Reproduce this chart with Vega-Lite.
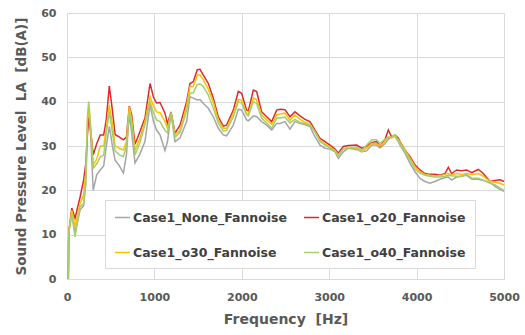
{
  "$schema": "https://vega.github.io/schema/vega-lite/v6.json",
  "autosize": {"type": "none"},
  "padding": {"left": 67, "top": 13, "right": 21, "bottom": 56},
  "width": 437,
  "height": 266,
  "background": "white",
  "config": {
    "view": {"stroke": null},
    "font": "DejaVu Sans"
  },
  "data": {
    "values": [
      {"f":15,"Case1_None_Fannoise":0,"Case1_o20_Fannoise":0,"Case1_o30_Fannoise":0,"Case1_o40_Fannoise":0},
      {"f":20,"Case1_None_Fannoise":10.5,"Case1_o20_Fannoise":10.5,"Case1_o30_Fannoise":10.5,"Case1_o40_Fannoise":10.5},
      {"f":55,"Case1_None_Fannoise":15,"Case1_o20_Fannoise":16,"Case1_o30_Fannoise":15.5,"Case1_o40_Fannoise":14.5},
      {"f":92,"Case1_None_Fannoise":10.5,"Case1_o20_Fannoise":13.7,"Case1_o30_Fannoise":11.8,"Case1_o40_Fannoise":9.5},
      {"f":150,"Case1_None_Fannoise":15.6,"Case1_o20_Fannoise":18.5,"Case1_o30_Fannoise":17,"Case1_o40_Fannoise":16.3},
      {"f":190,"Case1_None_Fannoise":16.5,"Case1_o20_Fannoise":22.3,"Case1_o30_Fannoise":19,"Case1_o40_Fannoise":17},
      {"f":215,"Case1_None_Fannoise":21.5,"Case1_o20_Fannoise":26,"Case1_o30_Fannoise":24,"Case1_o40_Fannoise":22},
      {"f":235,"Case1_None_Fannoise":34,"Case1_o20_Fannoise":33,"Case1_o30_Fannoise":36,"Case1_o40_Fannoise":37},
      {"f":248,"Case1_None_Fannoise":37.7,"Case1_o20_Fannoise":36.3,"Case1_o30_Fannoise":38.6,"Case1_o40_Fannoise":40},
      {"f":262,"Case1_None_Fannoise":36,"Case1_o20_Fannoise":35,"Case1_o30_Fannoise":36,"Case1_o40_Fannoise":37},
      {"f":300,"Case1_None_Fannoise":20,"Case1_o20_Fannoise":28,"Case1_o30_Fannoise":25.7,"Case1_o40_Fannoise":25},
      {"f":340,"Case1_None_Fannoise":23.5,"Case1_o20_Fannoise":30.5,"Case1_o30_Fannoise":27,"Case1_o40_Fannoise":26},
      {"f":380,"Case1_None_Fannoise":24.6,"Case1_o20_Fannoise":32.5,"Case1_o30_Fannoise":30,"Case1_o40_Fannoise":27.5},
      {"f":420,"Case1_None_Fannoise":25.5,"Case1_o20_Fannoise":32.5,"Case1_o30_Fannoise":30,"Case1_o40_Fannoise":28},
      {"f":450,"Case1_None_Fannoise":30,"Case1_o20_Fannoise":36,"Case1_o30_Fannoise":34,"Case1_o40_Fannoise":33},
      {"f":484,"Case1_None_Fannoise":34.4,"Case1_o20_Fannoise":43.5,"Case1_o30_Fannoise":39.3,"Case1_o40_Fannoise":37.7},
      {"f":520,"Case1_None_Fannoise":30,"Case1_o20_Fannoise":38,"Case1_o30_Fannoise":35,"Case1_o40_Fannoise":33},
      {"f":550,"Case1_None_Fannoise":26.8,"Case1_o20_Fannoise":32.6,"Case1_o30_Fannoise":30,"Case1_o40_Fannoise":28.9},
      {"f":600,"Case1_None_Fannoise":25.5,"Case1_o20_Fannoise":32,"Case1_o30_Fannoise":29.5,"Case1_o40_Fannoise":28},
      {"f":645,"Case1_None_Fannoise":23.9,"Case1_o20_Fannoise":31.4,"Case1_o30_Fannoise":29.1,"Case1_o40_Fannoise":27.6},
      {"f":680,"Case1_None_Fannoise":28,"Case1_o20_Fannoise":32,"Case1_o30_Fannoise":31,"Case1_o40_Fannoise":30},
      {"f":713,"Case1_None_Fannoise":37.4,"Case1_o20_Fannoise":39,"Case1_o30_Fannoise":38.8,"Case1_o40_Fannoise":37.7},
      {"f":740,"Case1_None_Fannoise":33,"Case1_o20_Fannoise":37,"Case1_o30_Fannoise":36,"Case1_o40_Fannoise":35},
      {"f":778,"Case1_None_Fannoise":26.2,"Case1_o20_Fannoise":30.4,"Case1_o30_Fannoise":29.1,"Case1_o40_Fannoise":28},
      {"f":830,"Case1_None_Fannoise":28,"Case1_o20_Fannoise":33,"Case1_o30_Fannoise":31.5,"Case1_o40_Fannoise":30.5},
      {"f":892,"Case1_None_Fannoise":31,"Case1_o20_Fannoise":36.3,"Case1_o30_Fannoise":35.5,"Case1_o40_Fannoise":34.7},
      {"f":950,"Case1_None_Fannoise":39.3,"Case1_o20_Fannoise":44.1,"Case1_o30_Fannoise":41.1,"Case1_o40_Fannoise":40},
      {"f":990,"Case1_None_Fannoise":35.5,"Case1_o20_Fannoise":41,"Case1_o30_Fannoise":39,"Case1_o40_Fannoise":37.5},
      {"f":1025,"Case1_None_Fannoise":33.6,"Case1_o20_Fannoise":39.7,"Case1_o30_Fannoise":37.7,"Case1_o40_Fannoise":35.9},
      {"f":1064,"Case1_None_Fannoise":32.5,"Case1_o20_Fannoise":39.8,"Case1_o30_Fannoise":37.5,"Case1_o40_Fannoise":35.5},
      {"f":1121,"Case1_None_Fannoise":29,"Case1_o20_Fannoise":37.4,"Case1_o30_Fannoise":35.5,"Case1_o40_Fannoise":33.5},
      {"f":1150,"Case1_None_Fannoise":31,"Case1_o20_Fannoise":35,"Case1_o30_Fannoise":34,"Case1_o40_Fannoise":33},
      {"f":1190,"Case1_None_Fannoise":37.4,"Case1_o20_Fannoise":37.7,"Case1_o30_Fannoise":37.5,"Case1_o40_Fannoise":37.5},
      {"f":1236,"Case1_None_Fannoise":31,"Case1_o20_Fannoise":32.9,"Case1_o30_Fannoise":32.5,"Case1_o40_Fannoise":32},
      {"f":1293,"Case1_None_Fannoise":31.8,"Case1_o20_Fannoise":34.7,"Case1_o30_Fannoise":33.5,"Case1_o40_Fannoise":33},
      {"f":1369,"Case1_None_Fannoise":35.5,"Case1_o20_Fannoise":40,"Case1_o30_Fannoise":39,"Case1_o40_Fannoise":38},
      {"f":1407,"Case1_None_Fannoise":41.1,"Case1_o20_Fannoise":44.1,"Case1_o30_Fannoise":43.4,"Case1_o40_Fannoise":41.9},
      {"f":1445,"Case1_None_Fannoise":40.8,"Case1_o20_Fannoise":44.5,"Case1_o30_Fannoise":43.4,"Case1_o40_Fannoise":42},
      {"f":1491,"Case1_None_Fannoise":40.4,"Case1_o20_Fannoise":47.2,"Case1_o30_Fannoise":46,"Case1_o40_Fannoise":43.9},
      {"f":1522,"Case1_None_Fannoise":40.5,"Case1_o20_Fannoise":47.3,"Case1_o30_Fannoise":46,"Case1_o40_Fannoise":44},
      {"f":1560,"Case1_None_Fannoise":39.6,"Case1_o20_Fannoise":46,"Case1_o30_Fannoise":44.9,"Case1_o40_Fannoise":43.4},
      {"f":1617,"Case1_None_Fannoise":38.5,"Case1_o20_Fannoise":44.1,"Case1_o30_Fannoise":42.8,"Case1_o40_Fannoise":41.5},
      {"f":1674,"Case1_None_Fannoise":36.6,"Case1_o20_Fannoise":40.8,"Case1_o30_Fannoise":39.9,"Case1_o40_Fannoise":38.5},
      {"f":1731,"Case1_None_Fannoise":34,"Case1_o20_Fannoise":36.6,"Case1_o30_Fannoise":35.8,"Case1_o40_Fannoise":35.2},
      {"f":1788,"Case1_None_Fannoise":32.5,"Case1_o20_Fannoise":34.5,"Case1_o30_Fannoise":34,"Case1_o40_Fannoise":33.4},
      {"f":1826,"Case1_None_Fannoise":32.3,"Case1_o20_Fannoise":34.7,"Case1_o30_Fannoise":34,"Case1_o40_Fannoise":33.5},
      {"f":1903,"Case1_None_Fannoise":34.7,"Case1_o20_Fannoise":38.1,"Case1_o30_Fannoise":37.4,"Case1_o40_Fannoise":36.6},
      {"f":1960,"Case1_None_Fannoise":38.3,"Case1_o20_Fannoise":42.3,"Case1_o30_Fannoise":40.5,"Case1_o40_Fannoise":40},
      {"f":1998,"Case1_None_Fannoise":38.1,"Case1_o20_Fannoise":41.9,"Case1_o30_Fannoise":40.3,"Case1_o40_Fannoise":39.7},
      {"f":2055,"Case1_None_Fannoise":35.9,"Case1_o20_Fannoise":38.1,"Case1_o30_Fannoise":37.4,"Case1_o40_Fannoise":37},
      {"f":2075,"Case1_None_Fannoise":35.7,"Case1_o20_Fannoise":37.9,"Case1_o30_Fannoise":37.2,"Case1_o40_Fannoise":36.8},
      {"f":2132,"Case1_None_Fannoise":36.8,"Case1_o20_Fannoise":42.6,"Case1_o30_Fannoise":40.8,"Case1_o40_Fannoise":40},
      {"f":2170,"Case1_None_Fannoise":36.6,"Case1_o20_Fannoise":42.3,"Case1_o30_Fannoise":40.4,"Case1_o40_Fannoise":39.6},
      {"f":2227,"Case1_None_Fannoise":35.5,"Case1_o20_Fannoise":37.7,"Case1_o30_Fannoise":37,"Case1_o40_Fannoise":36.3},
      {"f":2285,"Case1_None_Fannoise":34.7,"Case1_o20_Fannoise":36.6,"Case1_o30_Fannoise":35.9,"Case1_o40_Fannoise":35.2},
      {"f":2342,"Case1_None_Fannoise":33.6,"Case1_o20_Fannoise":35.5,"Case1_o30_Fannoise":34.9,"Case1_o40_Fannoise":34},
      {"f":2399,"Case1_None_Fannoise":35.1,"Case1_o20_Fannoise":38.1,"Case1_o30_Fannoise":37,"Case1_o40_Fannoise":36.3},
      {"f":2437,"Case1_None_Fannoise":35.1,"Case1_o20_Fannoise":38.3,"Case1_o30_Fannoise":37.2,"Case1_o40_Fannoise":36.3},
      {"f":2494,"Case1_None_Fannoise":35.5,"Case1_o20_Fannoise":38.2,"Case1_o30_Fannoise":37.4,"Case1_o40_Fannoise":36.5},
      {"f":2551,"Case1_None_Fannoise":33.8,"Case1_o20_Fannoise":36.6,"Case1_o30_Fannoise":35.8,"Case1_o40_Fannoise":35.2},
      {"f":2608,"Case1_None_Fannoise":35.5,"Case1_o20_Fannoise":37.7,"Case1_o30_Fannoise":37,"Case1_o40_Fannoise":36},
      {"f":2666,"Case1_None_Fannoise":35.1,"Case1_o20_Fannoise":36.8,"Case1_o30_Fannoise":36,"Case1_o40_Fannoise":35.3},
      {"f":2723,"Case1_None_Fannoise":34.8,"Case1_o20_Fannoise":36,"Case1_o30_Fannoise":35.3,"Case1_o40_Fannoise":35},
      {"f":2780,"Case1_None_Fannoise":34.4,"Case1_o20_Fannoise":35.5,"Case1_o30_Fannoise":35,"Case1_o40_Fannoise":34.7},
      {"f":2837,"Case1_None_Fannoise":32.1,"Case1_o20_Fannoise":33.6,"Case1_o30_Fannoise":33.2,"Case1_o40_Fannoise":33.2},
      {"f":2895,"Case1_None_Fannoise":30.2,"Case1_o20_Fannoise":31.7,"Case1_o30_Fannoise":31.3,"Case1_o40_Fannoise":31},
      {"f":2952,"Case1_None_Fannoise":29.5,"Case1_o20_Fannoise":31,"Case1_o30_Fannoise":30.5,"Case1_o40_Fannoise":30.2},
      {"f":3009,"Case1_None_Fannoise":29.3,"Case1_o20_Fannoise":30.2,"Case1_o30_Fannoise":29.8,"Case1_o40_Fannoise":29.6},
      {"f":3066,"Case1_None_Fannoise":28.7,"Case1_o20_Fannoise":29.3,"Case1_o30_Fannoise":29,"Case1_o40_Fannoise":28.8},
      {"f":3104,"Case1_None_Fannoise":27.2,"Case1_o20_Fannoise":28.4,"Case1_o30_Fannoise":28,"Case1_o40_Fannoise":27.8},
      {"f":3161,"Case1_None_Fannoise":28.7,"Case1_o20_Fannoise":29.9,"Case1_o30_Fannoise":29.3,"Case1_o40_Fannoise":29.3},
      {"f":3219,"Case1_None_Fannoise":29.5,"Case1_o20_Fannoise":30.1,"Case1_o30_Fannoise":29.7,"Case1_o40_Fannoise":29.5},
      {"f":3314,"Case1_None_Fannoise":29.2,"Case1_o20_Fannoise":30.2,"Case1_o30_Fannoise":29.5,"Case1_o40_Fannoise":29.7},
      {"f":3372,"Case1_None_Fannoise":28.7,"Case1_o20_Fannoise":29.5,"Case1_o30_Fannoise":28.7,"Case1_o40_Fannoise":29},
      {"f":3429,"Case1_None_Fannoise":28.9,"Case1_o20_Fannoise":29.9,"Case1_o30_Fannoise":29.5,"Case1_o40_Fannoise":30.2},
      {"f":3486,"Case1_None_Fannoise":30.2,"Case1_o20_Fannoise":30.8,"Case1_o30_Fannoise":30.6,"Case1_o40_Fannoise":31.4},
      {"f":3543,"Case1_None_Fannoise":30.2,"Case1_o20_Fannoise":31,"Case1_o30_Fannoise":30.5,"Case1_o40_Fannoise":31.4},
      {"f":3581,"Case1_None_Fannoise":29.6,"Case1_o20_Fannoise":29.9,"Case1_o30_Fannoise":30,"Case1_o40_Fannoise":30.6},
      {"f":3638,"Case1_None_Fannoise":30.5,"Case1_o20_Fannoise":31.4,"Case1_o30_Fannoise":31,"Case1_o40_Fannoise":31.5},
      {"f":3676,"Case1_None_Fannoise":31.5,"Case1_o20_Fannoise":33.6,"Case1_o30_Fannoise":32,"Case1_o40_Fannoise":32},
      {"f":3715,"Case1_None_Fannoise":32.1,"Case1_o20_Fannoise":32,"Case1_o30_Fannoise":31.8,"Case1_o40_Fannoise":32},
      {"f":3752,"Case1_None_Fannoise":32.2,"Case1_o20_Fannoise":32.5,"Case1_o30_Fannoise":32.3,"Case1_o40_Fannoise":32.5},
      {"f":3790,"Case1_None_Fannoise":31,"Case1_o20_Fannoise":31.8,"Case1_o30_Fannoise":31.5,"Case1_o40_Fannoise":31.3},
      {"f":3810,"Case1_None_Fannoise":30.2,"Case1_o20_Fannoise":31,"Case1_o30_Fannoise":30.8,"Case1_o40_Fannoise":30.5},
      {"f":3867,"Case1_None_Fannoise":28.4,"Case1_o20_Fannoise":29.1,"Case1_o30_Fannoise":29.1,"Case1_o40_Fannoise":28.8},
      {"f":3925,"Case1_None_Fannoise":26.1,"Case1_o20_Fannoise":27.6,"Case1_o30_Fannoise":27.2,"Case1_o40_Fannoise":26.8},
      {"f":3982,"Case1_None_Fannoise":24.2,"Case1_o20_Fannoise":25.7,"Case1_o30_Fannoise":25.3,"Case1_o40_Fannoise":24.8},
      {"f":4039,"Case1_None_Fannoise":22.7,"Case1_o20_Fannoise":24.6,"Case1_o30_Fannoise":24.2,"Case1_o40_Fannoise":23.9},
      {"f":4096,"Case1_None_Fannoise":22,"Case1_o20_Fannoise":23.8,"Case1_o30_Fannoise":23.6,"Case1_o40_Fannoise":23.4},
      {"f":4153,"Case1_None_Fannoise":21.6,"Case1_o20_Fannoise":23.6,"Case1_o30_Fannoise":23.4,"Case1_o40_Fannoise":23.2},
      {"f":4210,"Case1_None_Fannoise":22,"Case1_o20_Fannoise":23.6,"Case1_o30_Fannoise":23.3,"Case1_o40_Fannoise":23},
      {"f":4268,"Case1_None_Fannoise":22.5,"Case1_o20_Fannoise":23.4,"Case1_o30_Fannoise":23.3,"Case1_o40_Fannoise":23},
      {"f":4325,"Case1_None_Fannoise":22.9,"Case1_o20_Fannoise":23.8,"Case1_o30_Fannoise":23.6,"Case1_o40_Fannoise":23.2},
      {"f":4363,"Case1_None_Fannoise":23,"Case1_o20_Fannoise":25.2,"Case1_o30_Fannoise":23.8,"Case1_o40_Fannoise":23.4},
      {"f":4401,"Case1_None_Fannoise":22.3,"Case1_o20_Fannoise":23.8,"Case1_o30_Fannoise":23.5,"Case1_o40_Fannoise":23.3},
      {"f":4458,"Case1_None_Fannoise":23,"Case1_o20_Fannoise":24.6,"Case1_o30_Fannoise":23.8,"Case1_o40_Fannoise":23.2},
      {"f":4515,"Case1_None_Fannoise":23.2,"Case1_o20_Fannoise":24.4,"Case1_o30_Fannoise":23.6,"Case1_o40_Fannoise":23.2},
      {"f":4572,"Case1_None_Fannoise":23.4,"Case1_o20_Fannoise":24.6,"Case1_o30_Fannoise":23.8,"Case1_o40_Fannoise":23.6},
      {"f":4630,"Case1_None_Fannoise":22.5,"Case1_o20_Fannoise":24,"Case1_o30_Fannoise":23.5,"Case1_o40_Fannoise":22.8},
      {"f":4706,"Case1_None_Fannoise":22.5,"Case1_o20_Fannoise":24.7,"Case1_o30_Fannoise":23.8,"Case1_o40_Fannoise":22.7},
      {"f":4763,"Case1_None_Fannoise":22.2,"Case1_o20_Fannoise":23.8,"Case1_o30_Fannoise":23.2,"Case1_o40_Fannoise":22.3},
      {"f":4840,"Case1_None_Fannoise":21.8,"Case1_o20_Fannoise":22,"Case1_o30_Fannoise":22,"Case1_o40_Fannoise":21.6},
      {"f":4897,"Case1_None_Fannoise":20.9,"Case1_o20_Fannoise":22.2,"Case1_o30_Fannoise":21.8,"Case1_o40_Fannoise":21.3},
      {"f":4954,"Case1_None_Fannoise":20.2,"Case1_o20_Fannoise":22.4,"Case1_o30_Fannoise":21.6,"Case1_o40_Fannoise":20.5},
      {"f":5000,"Case1_None_Fannoise":19.8,"Case1_o20_Fannoise":22,"Case1_o30_Fannoise":21.2,"Case1_o40_Fannoise":20}
    ]
  },
  "transform": [
    {"fold": ["Case1_None_Fannoise","Case1_o20_Fannoise","Case1_o30_Fannoise","Case1_o40_Fannoise"], "as": ["series","value"]}
  ],
  "mark": {"type": "line", "strokeWidth": 1.5},
  "encoding": {
    "x": {
      "field": "f", "type": "quantitative",
      "scale": {"domain": [0, 5000], "nice": false},
      "axis": {
        "title": "Frequency\u00a0\u00a0[Hz]",
        "values": [0,1000,2000,3000,4000,5000],
        "format": "d",
        "grid": true, "gridColor": "#d9d9d9", "gridWidth": 1,
        "domain": true, "domainColor": "#d9d9d9",
        "ticks": false,
        "labelFont": "DejaVu Sans", "labelFontWeight": "bold", "labelFontSize": 11, "labelColor": "#595959",
        "labelPadding": 12, "labelFlush": false,
        "titleFont": "DejaVu Sans", "titleFontWeight": "bold", "titleFontSize": 14, "titleColor": "#595959",
        "titlePadding": 10
      }
    },
    "y": {
      "field": "value", "type": "quantitative",
      "scale": {"domain": [0, 60], "nice": false},
      "axis": {
        "title": "Sound Pressure Level\u00a0\u00a0LA\u00a0\u00a0[dB(A)]",
        "values": [0,10,20,30,40,50,60],
        "grid": true, "gridColor": "#d9d9d9", "gridWidth": 1,
        "domain": true, "domainColor": "#d9d9d9",
        "ticks": false,
        "labelFont": "DejaVu Sans", "labelFontWeight": "bold", "labelFontSize": 11, "labelColor": "#595959",
        "labelPadding": 11,
        "titleFont": "DejaVu Sans", "titleFontWeight": "bold", "titleFontSize": 13.5, "titleColor": "#595959",
        "titlePadding": 12
      }
    },
    "color": {
      "field": "series", "type": "nominal",
      "scale": {
        "domain": ["Case1_None_Fannoise","Case1_o20_Fannoise","Case1_o30_Fannoise","Case1_o40_Fannoise"],
        "range": ["#a5a5a5","#dc2a2a","#ffc000","#a2d06e"]
      },
      "legend": {
        "title": null,
        "orient": "none",
        "direction": "horizontal",
        "legendX": 38,
        "legendY": 187,
        "columns": 2,
        "gridAlign": "all",
        "columnPadding": 14,
        "rowPadding": 20,
        "padding": 9,
        "fillColor": "white",
        "strokeColor": "#d9d9d9",
        "symbolType": "stroke",
        "symbolSize": 225,
        "symbolStrokeWidth": 1.5,
        "labelOffset": 2,
        "labelFont": "DejaVu Sans",
        "labelFontWeight": "bold",
        "labelFontSize": 12.5,
        "labelColor": "#404040",
        "labelLimit": 300
      }
    }
  }
}
